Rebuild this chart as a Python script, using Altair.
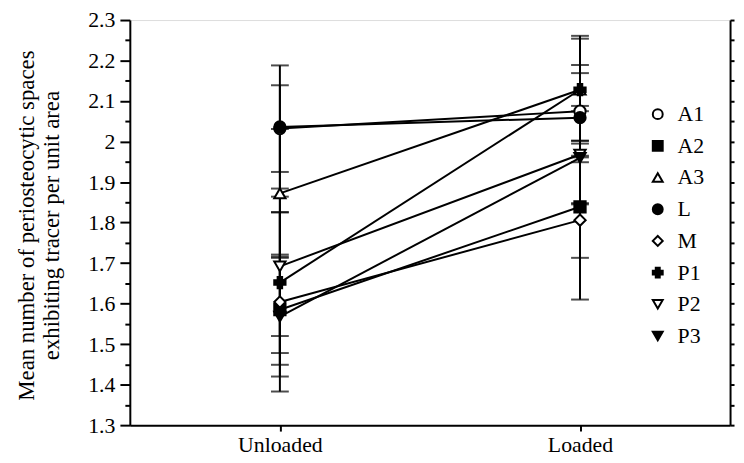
import altair as alt
import pandas as pd

series = ["A1", "A2", "A3", "L", "M", "P1", "P2", "P3"]
conditions = ["Unloaded", "Loaded"]
unloaded_mean = [2.032, 1.585, 1.872, 2.036, 1.604, 1.652, 1.692, 1.568]
unloaded_err = [0.107, 0.136, 0.159, 0.152, 0.221, 0.174, 0.172, 0.148]
loaded_mean = [2.075, 1.839, 2.128, 2.059, 1.806, 2.128, 1.968, 1.960]
loaded_err = [0.114, 0.126, 0.133, 0.110, 0.196, 0.126, 0.120, 0.115]
shapes = ["circle", "square", "triangle-up", "circle", "diamond", "cross", "triangle-down", "triangle-down"]
fills = ["white", "black", "white", "black", "white", "black", "white", "black"]
strokes = ["black"] * 8
y_ticks = [1.3, 1.35, 1.4, 1.45, 1.5, 1.55, 1.6, 1.65, 1.7, 1.75, 1.8, 1.85,
           1.9, 1.95, 2.0, 2.05, 2.1, 2.15, 2.2, 2.25, 2.3]
y_title = ["Mean number of periosteocytic spaces", "exhibiting tracer per unit area"]

rows = []
for i, s in enumerate(series):
    for c, m, e in ((conditions[0], unloaded_mean[i], unloaded_err[i]),
                    (conditions[1], loaded_mean[i], loaded_err[i])):
        rows.append(dict(series=s, condition=c, mean=m, lo=m - e, hi=m + e, order=i))
df = pd.DataFrame(rows)

FONT = "Liberation Serif, DejaVu Serif"
yscale = alt.Scale(domain=[1.3, 2.3], nice=False, zero=False)
major_test = "round(datum.value*100) % 10 == 0"
left_axis = alt.Axis(
    values=y_ticks, title=y_title, grid=False,
    labelExpr=f"{major_test} ? format(datum.value, '~g') : ''",
    tickSize={"condition": {"test": major_test, "value": 10}, "value": 5},
    labelPadding=5, labelFontSize=22, labelFont=FONT, labelColor="black",
    titleFont=FONT, titleFontSize=23, titleFontWeight="normal", titleColor="black",
    titleLineHeight=25, titleX=-104, titleY=207, titleBaseline="middle",
    domainColor="black", domainWidth=2, tickColor="black", tickWidth=2,
)
xenc = alt.X("condition:N",
             scale=alt.Scale(type="point", domain=conditions, padding=0.5),
             sort=conditions,
             axis=alt.Axis(title=None, labelAngle=0, labelFont=FONT, labelFontSize=22,
                           labelColor="black", tickSize=6, labelPadding=4,
                           domainColor="black", domainWidth=2, tickColor="black",
                           tickWidth=2, grid=False))

base = alt.Chart(df)
lines = base.mark_line(color="black", strokeWidth=2).encode(
    x=xenc, y=alt.Y("mean:Q", scale=yscale, axis=left_axis), detail="series:N",
    order="condition:N")
rules = base.mark_rule(color="black", strokeWidth=2).encode(
    x=xenc, y=alt.Y("lo:Q", scale=yscale, axis=left_axis), y2="hi:Q")
caps_lo = base.mark_tick(color="black", orient="horizontal", size=18, thickness=2).encode(
    x=xenc, y=alt.Y("lo:Q", scale=yscale, axis=left_axis))
caps_hi = base.mark_tick(color="black", orient="horizontal", size=18, thickness=2).encode(
    x=xenc, y=alt.Y("hi:Q", scale=yscale, axis=left_axis))
leg = alt.Legend(title=None, orient="none", legendX=522, legendY=84,
                 labelFont=FONT, labelFontSize=22, labelColor="black",
                 symbolSize=100, symbolStrokeWidth=2,
                 rowPadding=10, labelOffset=9, padding=0)
points = base.mark_point(filled=False, strokeWidth=2, size=130, opacity=1).encode(
    x=xenc, y=alt.Y("mean:Q", scale=yscale, axis=left_axis),
    shape=alt.Shape("series:N", scale=alt.Scale(domain=series, range=shapes), legend=leg),
    fill=alt.Fill("series:N", scale=alt.Scale(domain=series, range=fills), legend=leg),
    stroke=alt.Stroke("series:N", scale=alt.Scale(domain=series, range=strokes), legend=leg),
    order=alt.Order("order:Q"))

main = alt.layer(lines, rules, caps_lo, caps_hi, points)

right = base.mark_point(opacity=0).encode(
    y=alt.Y("mean:Q", scale=yscale,
            axis=alt.Axis(orient="right", values=y_ticks, labels=False, title=None,
                          tickSize=4, grid=False, domainColor="black", domainWidth=2,
                          tickColor="black", tickWidth=2)))

chart = alt.layer(main, right).resolve_axis(y="independent").properties(
    width=606, height=409,
    autosize=alt.AutoSizeParams(type="none"),
    padding={"left": 123, "top": 10, "right": 6, "bottom": 30},
).configure_view(stroke=None).configure(font=FONT)

chart.save("out.html", embed_options={"renderer": "svg", "actions": False})
